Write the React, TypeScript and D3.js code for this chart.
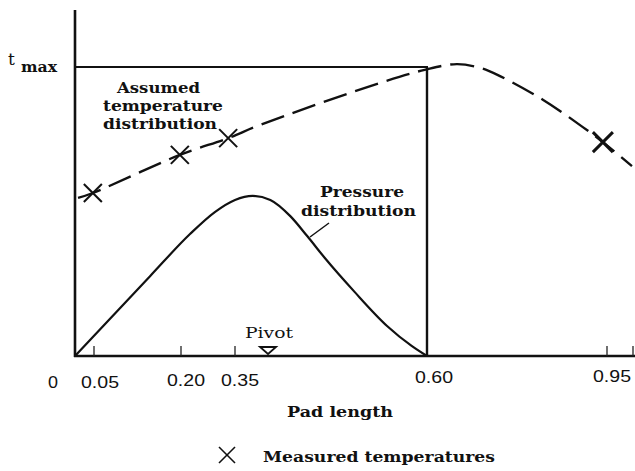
import React from 'react';
import * as d3 from 'd3';

// Pad-length positions (schematic, non-uniform axis)
const padBreaks = [0, 0.05, 0.2, 0.35, 0.6, 0.95, 1.0];
const tickValues = [0.05, 0.2, 0.35, 0.95, 1.0];
const tickLabelValues = [0, 0.05, 0.2, 0.35, 0.6, 0.95];
const tickLabels = ['0', '0.05', '0.20', '0.35', '0.60', '0.95'];

// Assumed temperature distribution (relative to t max = 1)
const tempX = [0.008, 0.047, 0.198, 0.331, 0.383, 0.539, 0.597, 0.658, 0.703, 0.738, 0.826, 0.903, 0.942, 0.998];
const tempY = [0.547, 0.564, 0.696, 0.754, 0.8, 0.945, 0.99, 1.01, 0.997, 0.972, 0.886, 0.792, 0.74, 0.657];

// Measured temperatures
const measuredX = [0.047, 0.198, 0.331, 0.942];
const measuredY = [0.564, 0.696, 0.754, 0.74];

// Pressure distribution
const pressureX = [0, 0.147, 0.225, 0.294, 0.35, 0.373, 0.396, 0.422, 0.444, 0.467, 0.506, 0.548, 0.58, 0.6];
const pressureY = [0, 0.277, 0.422, 0.498, 0.54, 0.554, 0.54, 0.484, 0.415, 0.339, 0.221, 0.104, 0.035, 0];

const tMax = 1;
const padEnd = 0.6;
const pivotX = 0.393;
const yTop = 1.197;

export default function App() {
  const x = d3.scaleLinear().domain(padBreaks).range([75, 94, 181, 235, 427, 607, 633]);
  const y = d3.scaleLinear().domain([0, tMax]).range([356, 67]);

  const tempPts = tempX.map((v, i) => [x(v), y(tempY[i])] as [number, number]);
  const presPts = pressureX.map((v, i) => [x(v), y(pressureY[i])] as [number, number]);
  const tempLine = d3.line().curve(d3.curveCatmullRom.alpha(0.5));
  const presLine = d3.line().curve(d3.curveMonotoneX);

  const serif = '"DejaVu Serif", serif';
  const sans = '"Liberation Sans", Arial, sans-serif';
  const labelStarts = [48, 81, 167, 221, 415, 593];
  const labelBase = [388, 388, 386, 386, 383, 382];

  const cross = (cx: number, cy: number, r: number, w: number, key: string) => (
    <g key={key} stroke="#111" strokeWidth={w} strokeLinecap="butt">
      <line x1={cx - r} y1={cy - r} x2={cx + r} y2={cy + r} />
      <line x1={cx - r} y1={cy + r} x2={cx + r} y2={cy - r} />
    </g>
  );

  return (
    <svg width={635} height={471} style={{ position: 'absolute', left: 0, top: 0, background: '#fff' }}>
      <rect width={635} height={471} fill="#fff" />
      {/* axes */}
      <line x1={x(0)} y1={y(yTop)} x2={x(0)} y2={y(0) + 1} stroke="#111" strokeWidth={2.6} />
      <line x1={x(0) - 1} y1={y(0)} x2={635} y2={y(0)} stroke="#111" strokeWidth={2.6} />
      {/* t max line and pad end */}
      <line x1={x(0)} y1={y(tMax)} x2={x(padEnd) + 1} y2={y(tMax)} stroke="#111" strokeWidth={2.2} />
      <line x1={x(padEnd)} y1={y(tMax)} x2={x(padEnd)} y2={y(0)} stroke="#111" strokeWidth={2.4} />
      {/* ticks */}
      {tickValues.map((t) => (
        <line key={t} x1={x(t)} x2={x(t)} y1={y(0)} y2={y(0) - 10} stroke="#222" strokeWidth={1.3} />
      ))}
      {/* tick labels */}
      {tickLabelValues.map((t, i) => (
        <text key={'l' + t} x={labelStarts[i]} y={labelBase[i]} fontFamily={sans} fontSize={16}
          fill="#111" textLength={tickLabels[i].length > 1 ? 38 : 10} lengthAdjust="spacingAndGlyphs">
          {tickLabels[i]}
        </text>
      ))}
      {/* pressure */}
      <path d={presLine(presPts) || ''} fill="none" stroke="#111" strokeWidth={2.2} />
      {/* temperature */}
      <path d={tempLine(tempPts) || ''} fill="none" stroke="#111" strokeWidth={2.4} strokeDasharray="24 9" />
      {measuredX.map((v, i) =>
        cross(x(v), y(measuredY[i]), i === 3 ? 10 : 9, i === 3 ? 3 : 2, 'm' + i)
      )}
      {/* pivot */}
      <path d={`M${x(pivotX) - 8},${y(0) - 9}L${x(pivotX) + 8},${y(0) - 9}L${x(pivotX)},${y(0) - 2}Z`}
        fill="none" stroke="#111" strokeWidth={1.8} />
      <text x={245} y={338} fontFamily={serif} fontSize={14} fill="#111" textLength={48} lengthAdjust="spacingAndGlyphs">Pivot</text>
      {/* t max label */}
      <text x={8} y={65} fontFamily={serif} fontSize={17} fill="#111">t</text>
      <text x={21} y={72} fontFamily={serif} fontSize={14} fontWeight="bold" fill="#111" textLength={36} lengthAdjust="spacingAndGlyphs">max</text>
      {/* annotations */}
      <g fontFamily={serif} fontSize={15} fontWeight="bold" fill="#111">
        <text x={117} y={93} textLength={83} lengthAdjust="spacingAndGlyphs">Assumed</text>
        <text x={103} y={111} textLength={120} lengthAdjust="spacingAndGlyphs">temperature</text>
        <text x={103} y={129} textLength={114} lengthAdjust="spacingAndGlyphs">distribution</text>
        <text x={320} y={197} textLength={84} lengthAdjust="spacingAndGlyphs">Pressure</text>
        <text x={301} y={216} textLength={115} lengthAdjust="spacingAndGlyphs">distribution</text>
        <text x={287} y={417} textLength={106} lengthAdjust="spacingAndGlyphs">Pad length</text>
        <text x={263} y={462} textLength={232} lengthAdjust="spacingAndGlyphs">Measured temperatures</text>
      </g>
      <line x1={329} y1={223} x2={310} y2={237} stroke="#111" strokeWidth={1.5} />
      {/* legend marker */}
      {cross(227, 455, 8, 1.6, 'legend')}
    </svg>
  );
}
